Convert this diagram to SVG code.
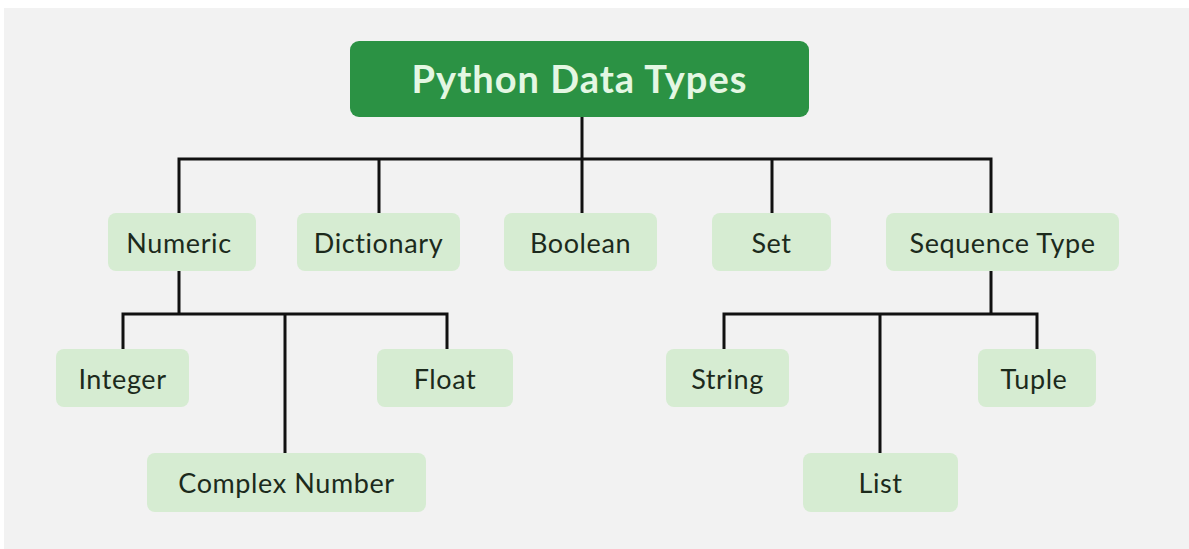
<svg xmlns="http://www.w3.org/2000/svg" width="1189" height="549" viewBox="0 0 1189 549">
  <style>
    .node rect { fill: #d6ecd2; }
    .node text { font-family: "Lato", "Noto Sans", sans-serif; font-size: 27px; letter-spacing: 0.6px; fill: #1c2a1c; text-anchor: middle; dominant-baseline: central; }
    .root rect { fill: #2b9244; }
    .root text { font-family: "Lato", "Noto Sans", sans-serif; font-size: 38px; font-weight: bold; letter-spacing: 1px; fill: #e4f7e3; text-anchor: middle; dominant-baseline: central; }
    .links path { fill: none; stroke: #111; stroke-width: 3; }
  </style>
  <rect width="1189" height="549" fill="#ffffff"/>
  <rect x="4" y="8" width="1185" height="541" fill="#f2f2f2"/>

  <g class="links">
    <path d="M582 117 V159"/>
    <path d="M179 213 V159 H991 V213"/>
    <path d="M379 159 V213"/>
    <path d="M582 159 V213"/>
    <path d="M772 159 V213"/>
    <path d="M179 271 V314"/>
    <path d="M123 349 V314 H447 V349"/>
    <path d="M285 314 V453"/>
    <path d="M991 271 V314"/>
    <path d="M724 349 V314 H1037 V349"/>
    <path d="M880 314 V453"/>
  </g>

  <g id="python-data-types" class="root">
    <rect x="350" y="41" width="459" height="76" rx="9"/>
    <text x="579.5" y="78">Python Data Types</text>
  </g>
  <g id="numeric" class="node">
    <rect x="108" y="213" width="148" height="58" rx="8"/>
    <text x="179" y="242">Numeric</text>
  </g>
  <g id="dictionary" class="node">
    <rect x="297" y="213" width="163" height="58" rx="8"/>
    <text x="378.5" y="242">Dictionary</text>
  </g>
  <g id="boolean" class="node">
    <rect x="504" y="213" width="153" height="58" rx="8"/>
    <text x="580.5" y="242">Boolean</text>
  </g>
  <g id="set" class="node">
    <rect x="712" y="213" width="119" height="58" rx="8"/>
    <text x="771.5" y="242">Set</text>
  </g>
  <g id="sequence-type" class="node">
    <rect x="886" y="213" width="233" height="58" rx="8"/>
    <text x="1002.5" y="242">Sequence Type</text>
  </g>
  <g id="integer" class="node">
    <rect x="56" y="349" width="133" height="58" rx="8"/>
    <text x="122.5" y="378">Integer</text>
  </g>
  <g id="float" class="node">
    <rect x="377" y="349" width="136" height="58" rx="8"/>
    <text x="445" y="378">Float</text>
  </g>
  <g id="complex-number" class="node">
    <rect x="147" y="453" width="279" height="59" rx="8"/>
    <text x="286.5" y="482">Complex Number</text>
  </g>
  <g id="string" class="node">
    <rect x="666" y="349" width="123" height="58" rx="8"/>
    <text x="727.5" y="378">String</text>
  </g>
  <g id="tuple" class="node">
    <rect x="978" y="349" width="118" height="58" rx="8"/>
    <text x="1034" y="378">Tuple</text>
  </g>
  <g id="list" class="node">
    <rect x="803" y="453" width="155" height="59" rx="8"/>
    <text x="880.5" y="482">List</text>
  </g>
</svg>
